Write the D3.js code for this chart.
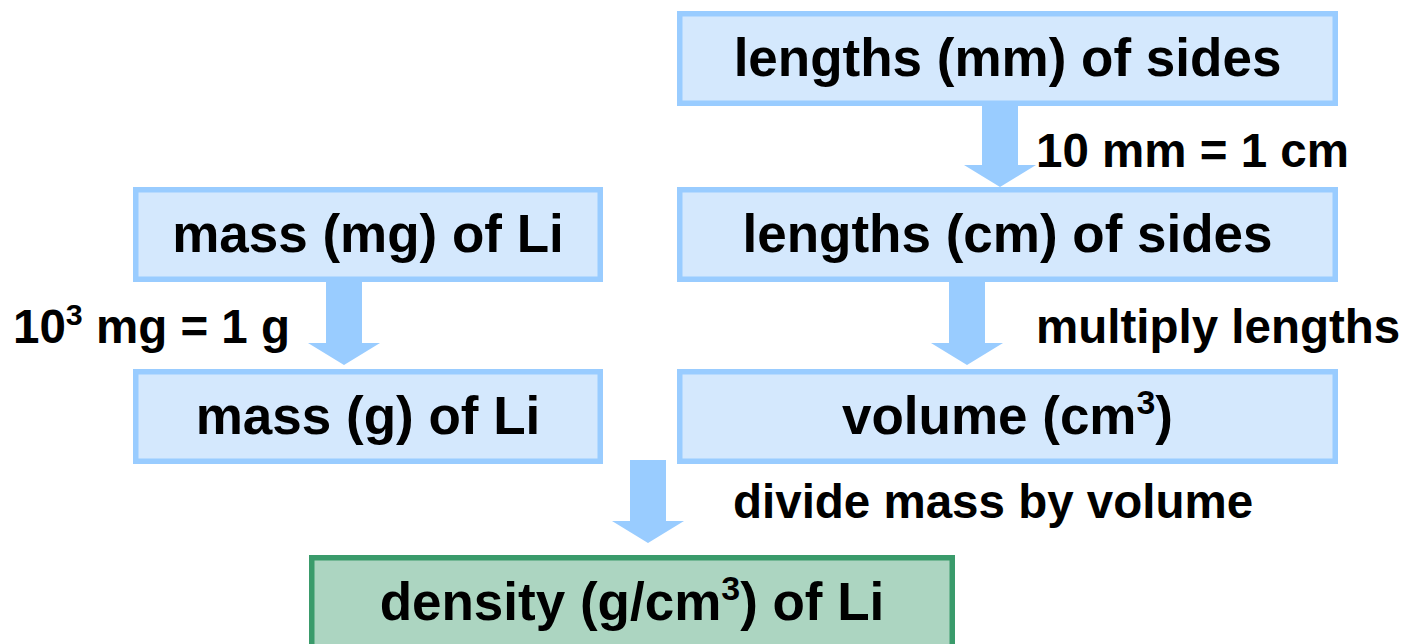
<!DOCTYPE html>
<html>
<head>
<meta charset="utf-8">
<script src="https://cdn.jsdelivr.net/npm/d3@7"></script>
<style>
  html, body { margin: 0; padding: 0; background: #fff; }
  svg { display: block; font-family: "Liberation Sans", Arial, sans-serif; font-weight: bold; }
</style>
</head>
<body>
<div id="chart"></div>
<script>
// flow steps (^ marks a superscript digit)
const boxIds = ['mm', 'cm', 'mg', 'g', 'vol', 'dens'];
const boxLabels = ['lengths (mm) of sides', 'lengths (cm) of sides', 'mass (mg) of Li',
                   'mass (g) of Li', 'volume (cm^3)', 'density (g/cm^3) of Li'];
const boxCols = ['right', 'right', 'left', 'left', 'right', 'mid'];
const boxRows = [0, 1, 1, 2, 2, 3];

// conversions between steps
const arrowFrom = ['mm', 'mg', 'cm', 'g'];
const arrowTo = ['cm', 'g', 'vol', 'dens'];
const arrowLabels = ['10 mm = 1 cm', '10^3 mg = 1 g', 'multiply lengths', 'divide mass by volume'];

const width = 1406, height = 644;
const blue = { fill: '#d4e8fd', stroke: '#99ccff' };
const green = { fill: '#acd5c1', stroke: '#3a9b6b' };
const boxFont = 53, noteFont = 47.5, border = 5.5;

// layout: column spans and row tops
const colX = d3.scaleOrdinal().domain(['left', 'right', 'mid']).range([[133, 603], [677, 1338], [309, 955]]);
const rowY = d3.scaleOrdinal().domain([0, 1, 2, 3]).range([11, 187, 369, 555]);
const boxH = 95;
// arrow centre x, shaft top, tip, and where its label sits
const arrowX = [1000, 344, 967, 648];
const arrowTop = [106, 282, 282, 460];
const arrowTip = [187, 365, 365, 543];
const noteX = [1036, 13, 1036, 733];
const noteY = [167, 343, 343, 518];

const boxes = boxIds.map((id, i) => {
    const [x0, x1] = colX(boxCols[i]);
    const y0 = rowY(boxRows[i]);
    return { id, label: boxLabels[i], x0, x1, y0, y1: i === 5 ? y0 + 110 : y0 + boxH, style: i === 5 ? green : blue };
});

const svg = d3.select('#chart').append('svg')
    .attr('width', width)
    .attr('height', height);

// write "a^3b" as tspans with a raised small digit
function richText(sel, str, size) {
    const parts = str.split(/\^(\d)/);
    parts.forEach((p, k) => {
        if (!p) return;
        if (k % 2 === 1) {
            sel.append('tspan').attr('font-size', size * 0.64).attr('dy', -size * 0.37).text(p);
        } else {
            const t = sel.append('tspan').text(p);
            if (k > 0) t.attr('dy', size * 0.37);
        }
    });
}

// arrows first so boxes sit on top
arrowFrom.forEach((f, i) => {
    const cx = arrowX[i], top = arrowTop[i], tip = arrowTip[i];
    const shaft = 18, head = 36, headH = 22;
    const p = d3.path();
    p.moveTo(cx - shaft, top);
    p.lineTo(cx + shaft, top);
    p.lineTo(cx + shaft, tip - headH);
    p.lineTo(cx + head, tip - headH);
    p.lineTo(cx, tip);
    p.lineTo(cx - head, tip - headH);
    p.lineTo(cx - shaft, tip - headH);
    p.closePath();
    svg.append('path').attr('d', p.toString()).attr('fill', '#99ccff');

    const t = svg.append('text')
        .attr('x', noteX[i])
        .attr('y', noteY[i])
        .attr('font-size', noteFont)
        .attr('fill', '#000');
    richText(t, arrowLabels[i], noteFont);
});

const g = svg.append('g').selectAll('g')
    .data(boxes)
    .enter().append('g');

g.append('rect')
    .attr('x', d => d.x0 + border / 2)
    .attr('y', d => d.y0 + border / 2)
    .attr('width', d => d.x1 - d.x0 - border)
    .attr('height', d => d.y1 - d.y0 - border)
    .attr('fill', d => d.style.fill)
    .attr('stroke', d => d.style.stroke)
    .attr('stroke-width', border);

g.append('text')
    .attr('x', d => (d.x0 + d.x1) / 2)
    .attr('y', d => d.y0 + 65)
    .attr('text-anchor', 'middle')
    .attr('font-size', boxFont)
    .attr('fill', '#000')
    .each(function(d) { richText(d3.select(this), d.label, boxFont); });
</script>
</body>
</html>
